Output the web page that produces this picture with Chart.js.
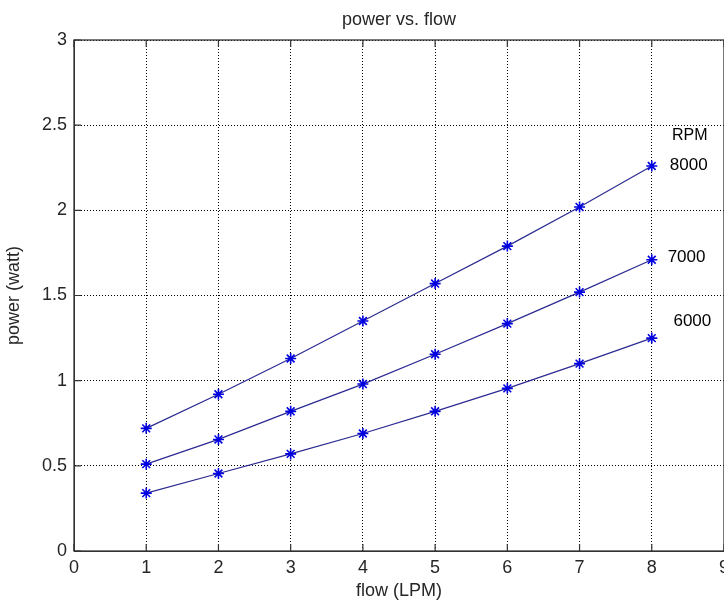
<!DOCTYPE html>
<html>
<head>
<meta charset="utf-8">
<title>power vs. flow</title>
<script src="https://cdn.jsdelivr.net/npm/chart.js@4.4.1/dist/chart.umd.min.js"></script>
<style>
  html, body { margin: 0; padding: 0; background: #fff; overflow: hidden; }
  #wrap { width: 724px; height: 605px; overflow: hidden; }
</style>
</head>
<body>
<div id="wrap"><canvas id="power" width="754" height="605"></canvas></div>
<script>
// flow (LPM)
const flow = [1, 2, 3, 4, 5, 6, 7, 8];

// power (watt) for each RPM
const rpm8000 = [0.72, 0.92, 1.13, 1.35, 1.57, 1.79, 2.02, 2.26];
const rpm7000 = [0.51, 0.655, 0.82, 0.98, 1.155, 1.335, 1.52, 1.71];
const rpm6000 = [0.34, 0.455, 0.57, 0.69, 0.82, 0.955, 1.10, 1.25];

const xTicks = [0, 1, 2, 3, 4, 5, 6, 7, 8, 9];
const yTicks = [0, 0.5, 1, 1.5, 2, 2.5, 3];

// text put next to the line ends
const endLabels = [
  { text: 'RPM', x: 8.28, y: 2.436, size: 16 },
  { text: '8000', x: 8.25, y: 2.263, size: 17 },
  { text: '7000', x: 8.22, y: 1.726, size: 17 },
  { text: '6000', x: 8.30, y: 1.35, size: 17 }
];

const FONT = "'Liberation Sans', Arial, sans-serif";
const TEXT = '#262626';

function toPoints(ys) {
  return flow.map((f, i) => ({ x: f, y: ys[i] }));
}

function series(label, ys) {
  return {
    label: label,
    data: toPoints(ys),
    borderColor: '#2a2a92',
    borderWidth: 1.2,
    pointStyle: 'star',
    pointRadius: 5.5,
    pointHoverRadius: 5.5,
    pointBorderColor: '#0000e0',
    pointBorderWidth: 1.6,
    pointBackgroundColor: '#0000e0',
    fill: false,
    tension: 0
  };
}

// box round the axes, with short ticks pointing in, like matlab
const frame = {
  id: 'frame',
  afterDraw(chart) {
    const ctx = chart.ctx;
    const a = chart.chartArea;
    const xs = chart.scales.x;
    const ys = chart.scales.y;
    ctx.save();
    ctx.strokeStyle = '#333';
    ctx.lineWidth = 1.3;
    ctx.strokeRect(a.left, a.top, a.right - a.left, a.bottom - a.top);
    ctx.lineWidth = 1.2;
    ctx.beginPath();
    xTicks.forEach(v => {
      const px = xs.getPixelForValue(v);
      ctx.moveTo(px, a.bottom);
      ctx.lineTo(px, a.bottom - 7);
      ctx.moveTo(px, a.top);
      ctx.lineTo(px, a.top + 7);
    });
    yTicks.forEach(v => {
      const py = ys.getPixelForValue(v);
      ctx.moveTo(a.left, py);
      ctx.lineTo(a.left + 7, py);
    });
    ctx.stroke();

    ctx.fillStyle = '#000';
    ctx.textAlign = 'left';
    ctx.textBaseline = 'middle';
    endLabels.forEach(l => {
      ctx.font = l.size + 'px ' + FONT;
      ctx.fillText(l.text, xs.getPixelForValue(l.x), ys.getPixelForValue(l.y));
    });
    ctx.restore();
  }
};

const ctx = document.getElementById('power').getContext('2d');
const chart = new Chart(ctx, {
  type: 'line',
  data: {
    datasets: [
      series('8000', rpm8000),
      series('7000', rpm7000),
      series('6000', rpm6000)
    ]
  },
  options: {
    responsive: false,
    animation: false,
    layout: { padding: { left: 0, right: 30, top: 0, bottom: 0 } },
    plugins: {
      legend: { display: false },
      tooltip: { enabled: false },
      title: {
        display: true,
        fullSize: false,
        text: 'power vs. flow',
        color: TEXT,
        font: { family: FONT, size: 18, weight: 'normal' },
        padding: { top: 9, bottom: 9.4 }
      }
    },
    scales: {
      x: {
        type: 'linear',
        min: 0,
        max: 9,
        afterBuildTicks: s => { s.ticks = xTicks.map(v => ({ value: v })); },
        afterFit: s => { s.height = 54; },
        ticks: {
          color: TEXT,
          font: { family: FONT, size: 18 },
          padding: 6,
          maxRotation: 0,
          callback: v => String(v)
        },
        grid: { color: '#000', lineWidth: 1, drawTicks: false },
        border: { display: true, color: '#333', dash: [1, 2] },
        title: {
          display: true,
          text: 'flow (LPM)',
          color: TEXT,
          font: { family: FONT, size: 18 },
          padding: { top: 0, bottom: 3 }
        }
      },
      y: {
        type: 'linear',
        min: 0,
        max: 3,
        afterBuildTicks: s => { s.ticks = yTicks.map(v => ({ value: v })); },
        afterFit: s => { s.width = 74; },
        ticks: {
          color: TEXT,
          font: { family: FONT, size: 18 },
          padding: 7,
          callback: v => String(v)
        },
        grid: { color: '#000', lineWidth: 1, drawTicks: false },
        border: { display: true, color: '#333', dash: [1, 2] },
        title: {
          display: true,
          text: 'power (watt)',
          color: TEXT,
          font: { family: FONT, size: 18 },
          padding: { top: 3, bottom: 0 }
        }
      }
    }
  },
  plugins: [frame]
});
</script>
</body>
</html>
